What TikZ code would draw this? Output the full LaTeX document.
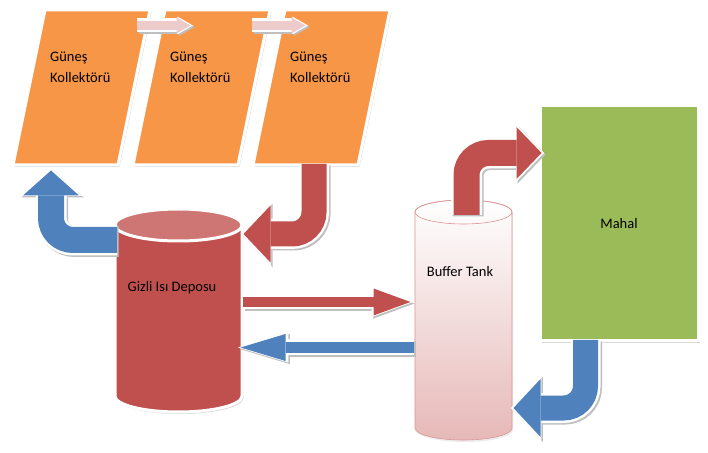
\documentclass[tikz,border=0pt]{standalone}
\usepackage{fontspec}
\setmainfont{Carlito}
\usetikzlibrary{arrows.meta,shadows}
\definecolor{kirmizi}{HTML}{C0504D}
\definecolor{mavi}{HTML}{4F81BD}
\definecolor{turuncu}{HTML}{F79646}
\definecolor{yesil}{HTML}{9BBB59}
\definecolor{pembe}{HTML}{E6B9B8}
\definecolor{kenar}{HTML}{D99694}
\begin{document}
\begin{tikzpicture}[x=1pt,y=1pt,font=\fontsize{14.5}{21}\selectfont,
		kutu/.style={draw=white,line width=3pt,drop shadow={opacity=.3,shadow xshift=1.5pt,shadow yshift=-2pt}},
		akis/.style n args={4}{draw=#2,line width=#1,shorten >=2.5pt,-{Triangle[length=#3,width=#4,line width=0pt]},
			preaction={draw=black!25,line width=#1+5pt,shorten >=0pt,transform canvas={shift={(1.5pt,-1.5pt)}},-{Triangle[length=#3,width=#4,scale=1.12,line width=0pt]}},
			preaction={draw=white,line width=#1+5pt,shorten >=0pt,-{Triangle[length=#3,width=#4,scale=1.12,line width=0pt]}}},
		etiket/.style={inner sep=0pt}]
	\useasboundingbox[fill=white] (0,0) rectangle (708,452);
	% kollektorler
	\foreach \i/\x in {1/13,2/133,3/253}{
		\draw[kutu,fill=turuncu] (\x,287)--++(105,0)--++(32,155)--++(-105,0)--cycle;
		\node[etiket,anchor=north west,align=left] (k\i) at (\x+37,400) {Güneş\\Kollektörü};
	}
	\foreach \i/\x in {1/137,2/252}{
		\coordinate (p\i) at (\x,426.5);
		\draw[akis={9pt}{pembe!75!white}{14pt}{16pt}] (p\i)--++(56,0);
	}
	% gizli isi deposu
	\draw[kutu,fill=kirmizi] (115,227)--(115,56) arc[start angle=180,end angle=360,x radius=63.5,y radius=16]--(242,227) arc[start angle=0,end angle=180,x radius=63.5,y radius=16]--cycle;
	\draw[draw=white,line width=3pt,fill=kirmizi!78!white] (178.5,227) ellipse[x radius=63.5,y radius=16];
	\node[etiket] (gizli) at (172,164) {Gizli Isı Deposu};
	% buffer tank
	\draw[kenar,line width=.6pt,top color=white,middle color=pembe!40!white,bottom color=pembe,drop shadow={opacity=.15,shadow xshift=1pt,shadow yshift=-2pt}] (415,240)--(415,24) arc[start angle=180,end angle=360,x radius=48.5,y radius=12]--(512,240) arc[start angle=0,end angle=180,x radius=48.5,y radius=12]--cycle;
	\draw[kenar,line width=.6pt] (463.5,240) ellipse[x radius=48.5,y radius=12];
	\node[etiket] (buffer) at (460,180) {Buffer Tank};
	% mahal
	\node[kutu,fill=yesil,minimum width=158pt,minimum height=235pt] (mahal) at (619,228.5) {Mahal};
	% akislar
	\coordinate (g1) at (117,212);
	\coordinate (g2) at (243,150);
	\coordinate (g3) at (241,218);
	\coordinate (g4) at (238,104.5);
	\coordinate (t1) at (466.5,237);
	\coordinate (t2) at (413,150);
	\coordinate (t3) at (414,104.5);
	\coordinate (t4) at (511,44);
	\draw[akis={26pt}{mavi}{25pt}{56pt},rounded corners=22pt] (g1) -| (51,284);
	\draw[akis={25pt}{kirmizi}{27pt}{57pt},rounded corners=22pt] (314,288) |- (g3);
	\draw[akis={10pt}{kirmizi}{37pt}{27pt}] (g2)--(t2);
	\draw[akis={11pt}{mavi}{45pt}{27pt}] (t3)--(g4);
	\draw[akis={26pt}{kirmizi}{25pt}{52pt},rounded corners=22pt] (t1) |- (544,299);
	\draw[akis={25pt}{mavi}{27pt}{58pt},rounded corners=22pt] (585.5,112) |- (t4);
\end{tikzpicture}
\end{document}
